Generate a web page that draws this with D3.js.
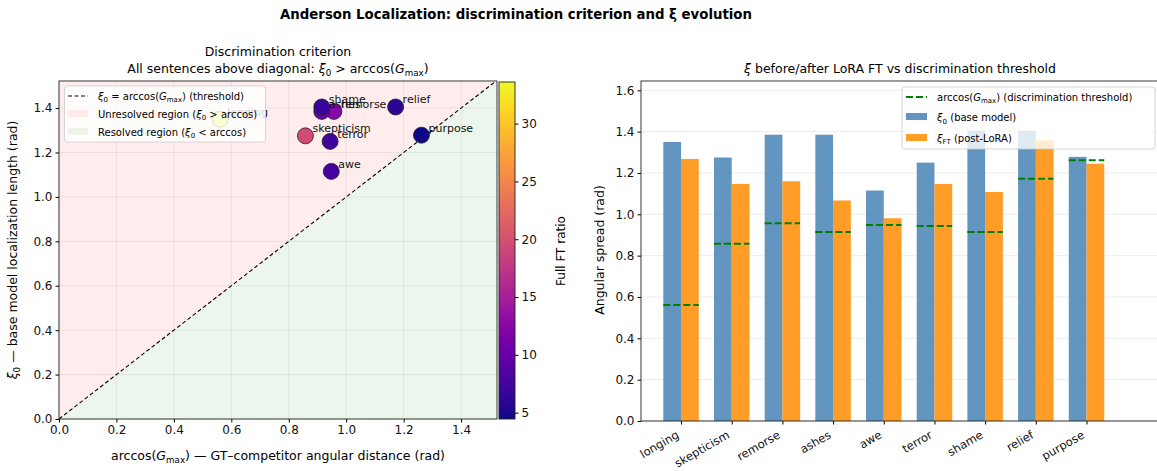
<!DOCTYPE html>
<html>
<head>
<meta charset="utf-8">
<script src="https://cdn.jsdelivr.net/npm/d3@7"></script>
<style>
  html, body { margin: 0; padding: 0; background: #fff; }
  svg { display: block; font-family: "DejaVu Sans", sans-serif; }
</style>
</head>
<body>
<svg id="chart" width="1157" height="471"></svg>
<script>
// Per-sentence measurements
const words = ["longing", "skepticism", "remorse", "ashes", "awe", "terror", "shame", "relief", "purpose"];
const xi0 = [1.350, 1.275, 1.385, 1.385, 1.115, 1.250, 1.405, 1.405, 1.278];
const xiFT = [1.268, 1.147, 1.160, 1.067, 0.981, 1.147, 1.108, 1.358, 1.245];
const arccosG = [0.561, 0.858, 0.957, 0.915, 0.948, 0.944, 0.915, 1.172, 1.262];
const ftRatio = [33.6, 19.5, 12.5, 10.3, 7.6, 7.2, 6.8, 6.0, 4.45];

const leftTicks = [0, 0.2, 0.4, 0.6, 0.8, 1.0, 1.2, 1.4];
const rightTicks = [0, 0.2, 0.4, 0.6, 0.8, 1.0, 1.2, 1.4, 1.6];
const cbarTicks = [5, 10, 15, 20, 25, 30];

const svg = d3.select("#chart");
const FONT = "DejaVu Sans, sans-serif";

// Helper: append rich text made of runs {t, it, sub}; subscripts shift down and the next run shifts back
function rich(sel, runs, size) {
  let pending = 0;
  runs.forEach(r => {
    const ts = sel.append("tspan").text(r.t);
    if (r.it) ts.attr("font-style", "italic");
    let dy = pending;
    pending = 0;
    if (r.sub) {
      ts.attr("font-size", size * 0.7);
      dy += size * 0.25;
      pending = -size * 0.25;
    }
    if (dy !== 0) ts.attr("dy", dy);
  });
  return sel;
}

// Main title
svg.append("text").attr("x", 516).attr("y", 19).attr("text-anchor", "middle")
  .attr("font-size", 13.3).attr("font-weight", "bold")
  .text("Anderson Localization: discrimination criterion and ξ evolution");

// ================= Left: scatter =================
const L = { l: 59, r: 497, t: 81, b: 419 };
const xL = d3.scaleLinear().domain([0, 1.525]).range([L.l, L.r]);
const yL = d3.scaleLinear().domain([0, 1.522]).range([L.b, L.t]);
const color = d3.scaleSequential(d3.interpolatePlasma).domain([d3.min(ftRatio), d3.max(ftRatio)]);

const gL = svg.append("g");
gL.append("defs").append("clipPath").attr("id", "clipL")
  .append("rect").attr("x", L.l).attr("y", L.t).attr("width", L.r - L.l).attr("height", L.b - L.t);

// Regions either side of the diagonal
const dmax = 1.525;
gL.append("path").attr("clip-path", "url(#clipL)")
  .attr("d", d3.line()([[xL(0), yL(0)], [xL(dmax), yL(dmax)], [xL(0), yL(dmax)]]) + "Z")
  .attr("fill", "red").attr("fill-opacity", 0.07);
gL.append("path").attr("clip-path", "url(#clipL)")
  .attr("d", d3.line()([[xL(0), yL(0)], [xL(dmax), yL(0)], [xL(dmax), yL(dmax)]]) + "Z")
  .attr("fill", "green").attr("fill-opacity", 0.07);

// Grid
gL.selectAll(".gx").data(leftTicks).join("line")
  .attr("x1", d => xL(d)).attr("x2", d => xL(d)).attr("y1", L.t).attr("y2", L.b)
  .attr("stroke", "#b0b0b0").attr("stroke-opacity", 0.3).attr("stroke-width", 0.8);
gL.selectAll(".gy").data(leftTicks).join("line")
  .attr("y1", d => yL(d)).attr("y2", d => yL(d)).attr("x1", L.l).attr("x2", L.r)
  .attr("stroke", "#b0b0b0").attr("stroke-opacity", 0.3).attr("stroke-width", 0.8);

// Diagonal threshold
gL.append("line").attr("clip-path", "url(#clipL)")
  .attr("x1", xL(0)).attr("y1", yL(0)).attr("x2", xL(dmax)).attr("y2", yL(dmax))
  .attr("stroke", "#000").attr("stroke-width", 1.1).attr("stroke-dasharray", "4,2.5");

// Points and labels
const idx = d3.range(words.length);
gL.selectAll(".pt").data(idx).join("circle")
  .attr("cx", i => xL(arccosG[i])).attr("cy", i => yL(xi0[i])).attr("r", 8)
  .attr("fill", i => color(ftRatio[i])).attr("stroke", "#222").attr("stroke-width", 0.8);
gL.selectAll(".lb").data(idx).join("text")
  .attr("x", i => xL(arccosG[i]) + 7).attr("y", i => yL(xi0[i]) - 3.5)
  .attr("font-size", 11).attr("fill", "#111").text(i => words[i]);

// Axes
gL.append("g").attr("transform", `translate(0,${L.b})`)
  .call(d3.axisBottom(xL).tickValues(leftTicks).tickFormat(d3.format(".1f")).tickSize(3.5).tickPadding(3))
  .call(g => g.select(".domain").remove())
  .selectAll("text").attr("font-size", 12).attr("font-family", FONT).attr("fill", "#111");
gL.append("g").attr("transform", `translate(${L.l},0)`)
  .call(d3.axisLeft(yL).tickValues(leftTicks).tickFormat(d3.format(".1f")).tickSize(3.5).tickPadding(3))
  .call(g => g.select(".domain").remove())
  .selectAll("text").attr("font-size", 12).attr("font-family", FONT).attr("fill", "#111");
gL.append("rect").attr("x", L.l).attr("y", L.t).attr("width", L.r - L.l).attr("height", L.b - L.t)
  .attr("fill", "none").attr("stroke", "#222").attr("stroke-width", 0.9);

// Titles and labels
gL.append("text").attr("x", 278).attr("y", 56).attr("text-anchor", "middle").attr("font-size", 12.5)
  .text("Discrimination criterion");
rich(gL.append("text").attr("x", 278).attr("y", 73).attr("text-anchor", "middle").attr("font-size", 12.5),
  [{ t: "All sentences above diagonal: " }, { t: "ξ", it: true }, { t: "0", sub: true },
   { t: " > arccos(" }, { t: "G", it: true }, { t: "max", sub: true }, { t: ")" }], 12.5);
rich(gL.append("text").attr("x", 278).attr("y", 460).attr("text-anchor", "middle").attr("font-size", 12.5),
  [{ t: "arccos(" }, { t: "G", it: true }, { t: "max", sub: true }, { t: ") — GT–competitor angular distance (rad)" }], 12.5);
rich(gL.append("text").attr("transform", "translate(17,250) rotate(-90)").attr("text-anchor", "middle").attr("font-size", 12.5),
  [{ t: "ξ", it: true }, { t: "0", sub: true }, { t: " — base model localization length (rad)" }], 12.5);

// Legend
const lgL = gL.append("g");
lgL.append("rect").attr("x", 64.5).attr("y", 86).attr("width", 201).attr("height", 56).attr("rx", 3)
  .attr("fill", "#fff").attr("fill-opacity", 0.8).attr("stroke", "#ccc").attr("stroke-width", 0.8);
lgL.append("line").attr("x1", 68).attr("x2", 88).attr("y1", 96).attr("y2", 96)
  .attr("stroke", "#000").attr("stroke-width", 1.1).attr("stroke-dasharray", "4,2.5");
lgL.append("rect").attr("x", 68).attr("y", 110).attr("width", 20).attr("height", 7).attr("fill", "red").attr("fill-opacity", 0.07);
lgL.append("rect").attr("x", 68).attr("y", 128).attr("width", 20).attr("height", 7).attr("fill", "green").attr("fill-opacity", 0.07);
rich(lgL.append("text").attr("x", 98).attr("y", 99.5).attr("font-size", 10),
  [{ t: "ξ", it: true }, { t: "0", sub: true }, { t: " = arccos(" }, { t: "G", it: true }, { t: "max", sub: true }, { t: ")  (threshold)" }], 10);
rich(lgL.append("text").attr("x", 98).attr("y", 117.5).attr("font-size", 10),
  [{ t: "Unresolved region (" }, { t: "ξ", it: true }, { t: "0", sub: true }, { t: " > arccos)" }], 10);
rich(lgL.append("text").attr("x", 98).attr("y", 135.5).attr("font-size", 10),
  [{ t: "Resolved region (" }, { t: "ξ", it: true }, { t: "0", sub: true }, { t: " < arccos)" }], 10);

// Colorbar
const CB = { l: 499, r: 515, t: 82, b: 419 };
const yC = d3.scaleLinear().domain(color.domain()).range([CB.b, CB.t]);
const grad = svg.append("defs").append("linearGradient").attr("id", "plasma")
  .attr("x1", 0).attr("y1", 1).attr("x2", 0).attr("y2", 0);
d3.range(0, 1.0001, 0.02).forEach(t => grad.append("stop").attr("offset", t).attr("stop-color", d3.interpolatePlasma(t)));
svg.append("rect").attr("x", CB.l).attr("y", CB.t).attr("width", CB.r - CB.l).attr("height", CB.b - CB.t)
  .attr("fill", "url(#plasma)").attr("stroke", "#222").attr("stroke-width", 0.9);
svg.append("g").attr("transform", `translate(${CB.r},0)`)
  .call(d3.axisRight(yC).tickValues(cbarTicks).tickSize(3.5).tickPadding(3))
  .call(g => g.select(".domain").remove())
  .selectAll("text").attr("font-size", 12).attr("font-family", FONT).attr("fill", "#111");
svg.append("text").attr("transform", "translate(565,251) rotate(-90)").attr("text-anchor", "middle")
  .attr("font-size", 12).text("Full FT ratio");

// ================= Right: grouped bars =================
const R = { l: 641, r: 1160, t: 81, b: 421 };
const xR = d3.scaleLinear().domain([-0.79, 9.45]).range([R.l, R.r]);
const yR = d3.scaleLinear().domain([0, 1.645]).range([R.b, R.t]);
const bw = 0.35;
const gR = svg.append("g");

gR.selectAll(".gy").data(rightTicks).join("line")
  .attr("y1", d => yR(d)).attr("y2", d => yR(d)).attr("x1", R.l).attr("x2", R.r)
  .attr("stroke", "#b0b0b0").attr("stroke-opacity", 0.3).attr("stroke-width", 0.8);

const blue = "#4682b4", orange = "#ff8c00";
gR.selectAll(".b0").data(idx).join("rect")
  .attr("x", i => xR(i - bw)).attr("width", i => xR(i) - xR(i - bw))
  .attr("y", i => yR(xi0[i])).attr("height", i => yR(0) - yR(xi0[i]))
  .attr("fill", blue).attr("fill-opacity", 0.85);
gR.selectAll(".b1").data(idx).join("rect")
  .attr("x", i => xR(i)).attr("width", i => xR(i + bw) - xR(i))
  .attr("y", i => yR(xiFT[i])).attr("height", i => yR(0) - yR(xiFT[i]))
  .attr("fill", orange).attr("fill-opacity", 0.85);
gR.selectAll(".thr").data(idx).join("line")
  .attr("x1", i => xR(i - bw)).attr("x2", i => xR(i + bw))
  .attr("y1", i => yR(arccosG[i])).attr("y2", i => yR(arccosG[i]))
  .attr("stroke", "green").attr("stroke-width", 2).attr("stroke-dasharray", "7,3");

// Axes
const axB = gR.append("g").attr("transform", `translate(0,${R.b})`)
  .call(d3.axisBottom(xR).tickValues(idx).tickFormat(i => words[i]).tickSize(3.5).tickPadding(3))
  .call(g => g.select(".domain").remove());
axB.selectAll("text").attr("font-size", 11.5).attr("font-family", FONT).attr("fill", "#111")
  .attr("text-anchor", "end").attr("dy", null).attr("dx", null)
  .attr("transform", "translate(-5,10.5) rotate(-30)");
gR.append("g").attr("transform", `translate(${R.l},0)`)
  .call(d3.axisLeft(yR).tickValues(rightTicks).tickFormat(d3.format(".1f")).tickSize(3.5).tickPadding(3))
  .call(g => g.select(".domain").remove())
  .selectAll("text").attr("font-size", 12).attr("font-family", FONT).attr("fill", "#111");
gR.append("rect").attr("x", R.l).attr("y", R.t).attr("width", R.r - R.l).attr("height", R.b - R.t)
  .attr("fill", "none").attr("stroke", "#222").attr("stroke-width", 0.9);

rich(gR.append("text").attr("x", 900).attr("y", 73).attr("text-anchor", "middle").attr("font-size", 12.5),
  [{ t: "ξ", it: true }, { t: " before/after LoRA FT vs discrimination threshold" }], 12.5);
gR.append("text").attr("transform", "translate(604,250) rotate(-90)").attr("text-anchor", "middle")
  .attr("font-size", 12.5).text("Angular spread (rad)");

// Legend
const lgR = gR.append("g");
lgR.append("rect").attr("x", 902).attr("y", 87).attr("width", 253).attr("height", 62).attr("rx", 3)
  .attr("fill", "#fff").attr("fill-opacity", 0.8).attr("stroke", "#ccc").attr("stroke-width", 0.8);
lgR.append("line").attr("x1", 906).attr("x2", 927).attr("y1", 97).attr("y2", 97)
  .attr("stroke", "green").attr("stroke-width", 2).attr("stroke-dasharray", "7,3");
lgR.append("rect").attr("x", 906).attr("y", 113).attr("width", 21).attr("height", 7).attr("fill", blue).attr("fill-opacity", 0.85);
lgR.append("rect").attr("x", 906).attr("y", 134).attr("width", 21).attr("height", 7).attr("fill", orange).attr("fill-opacity", 0.85);
rich(lgR.append("text").attr("x", 937).attr("y", 100.5).attr("font-size", 10),
  [{ t: "arccos(" }, { t: "G", it: true }, { t: "max", sub: true }, { t: ") (discrimination threshold)" }], 10);
rich(lgR.append("text").attr("x", 937).attr("y", 121).attr("font-size", 10),
  [{ t: "ξ", it: true }, { t: "0", sub: true }, { t: " (base model)" }], 10);
rich(lgR.append("text").attr("x", 937).attr("y", 141.5).attr("font-size", 10),
  [{ t: "ξ", it: true }, { t: "FT", sub: true }, { t: " (post-LoRA)" }], 10);
</script>
</body>
</html>
